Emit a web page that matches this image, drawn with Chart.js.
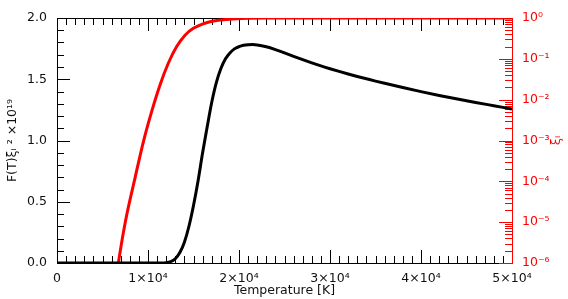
<!DOCTYPE html>
<html>
<head>
<meta charset="utf-8">
<script src="https://cdn.jsdelivr.net/npm/chart.js@4/dist/chart.umd.min.js"></script>
<style>
html,body{margin:0;padding:0;background:#fff;}
#c{display:block;}
</style>
</head>
<body>
<canvas id="c" width="568" height="299"></canvas>
<script>
// ---- data ----
const blackT = [0, 11500, 12000, 12500, 13000, 13500, 14000, 14500, 15000, 15500, 16000, 16500, 17000, 17500, 18000, 18500, 19000, 19500, 20000, 20500, 21000, 21500, 22000, 23000, 24000, 25000, 26000, 27000, 28000, 29000, 30000, 31000, 32000, 33000, 34000, 35000, 36000, 38000, 40000, 42000, 44000, 46000, 48000, 50000];
const blackF = [0, 0, 0.003, 0.012, 0.035, 0.085, 0.17, 0.30, 0.47, 0.67, 0.90, 1.11, 1.31, 1.47, 1.585, 1.665, 1.715, 1.748, 1.766, 1.777, 1.782, 1.783, 1.78, 1.765, 1.742, 1.715, 1.687, 1.66, 1.634, 1.609, 1.586, 1.564, 1.543, 1.523, 1.504, 1.485, 1.467, 1.432, 1.399, 1.368, 1.339, 1.311, 1.284, 1.257];

const redT = [6740, 7180, 7660, 8570, 9490, 10400, 11320, 12230, 13150, 14070, 14980, 15900, 16810, 17700, 18680, 19780, 21000, 23000, 26000, 30000, 40000, 50000];
const redXi = [1e-6, 4e-6, 1.5e-5, 1.2e-4, 9.3e-4, 5.1e-3, 2.3e-2, 7.8e-2, 0.20, 0.38, 0.56, 0.70, 0.81, 0.88, 0.925, 0.962, 0.983, 0.995, 0.999, 1.0, 1.0, 1.0];

const xTickValues = [0, 10000, 20000, 30000, 40000, 50000];
const xTickLabels = ['0', '1×10⁴', '2×10⁴', '3×10⁴', '4×10⁴', '5×10⁴'];
const yTickValues = [0, 0.5, 1.0, 1.5, 2.0];
const y2TickValues = [1e-6, 1e-5, 1e-4, 1e-3, 1e-2, 1e-1, 1];
const y2TickLabels = ['10⁻⁶', '10⁻⁵', '10⁻⁴', '10⁻³', '10⁻²', '10⁻¹', '10⁰'];

const xTitle = 'Temperature [K]';
const yTitle = 'F(T)ξᵢ ² ×10¹⁹';
const y2Title = 'ξᵢ';

const FONT = 'DejaVu Sans';
const RED = '#ff0000';

const innerTicks = {
  id: 'innerTicks',
  beforeDatasetsDraw(chart) {
    const {ctx, chartArea: a, scales: {x, y, y2}} = chart;
    const seg = (x1, y1, x2, y2_) => { ctx.beginPath(); ctx.moveTo(x1, y1); ctx.lineTo(x2, y2_); ctx.stroke(); };
    ctx.save();
    ctx.lineWidth = 1;
    ctx.strokeStyle = '#000';
    seg(a.left, a.top + 0.5, a.right, a.top + 0.5);
    for (let v = x.min + 1000; v < x.max; v += 1000) {
      const px = Math.round(x.getPixelForValue(v)) + 0.5;
      const len = (v % 10000 === 0) ? 13 : 7;
      seg(px, a.bottom, px, a.bottom - len);
      seg(px, a.top, px, a.top + len);
    }
    for (let i = 1; i < 20; i++) {
      const v = i / 10;
      const py = Math.round(y.getPixelForValue(v)) + 0.5;
      const len = (i % 5 === 0) ? 13 : 7;
      seg(a.left, py, a.left + len, py);
    }
    ctx.strokeStyle = RED;
    for (let e = -6; e <= 0; e++) {
      for (let m = 1; m <= 9; m++) {
        const v = m * Math.pow(10, e);
        if (v > 1.0000001) break;
        const py = Math.round(y2.getPixelForValue(v)) + 0.5;
        const len = (m === 1) ? 13 : 7;
        seg(a.right, py, a.right - len, py);
      }
    }
    ctx.restore();
  },
  afterDraw(chart) {
    const {ctx, chartArea: a} = chart;
    ctx.save();
    ctx.fillStyle = RED;
    ctx.font = '13px "' + FONT + '"';
    ctx.textAlign = 'center';
    ctx.textBaseline = 'middle';
    ctx.translate(557, (a.top + a.bottom) / 2);
    ctx.rotate(-Math.PI / 2);
    ctx.fillText(y2Title, 0, 0);
    ctx.restore();
  }
};

new Chart(document.getElementById('c'), {
  type: 'line',
  data: {
    datasets: [
      {
        label: 'F',
        data: blackT.map((t, i) => ({x: t, y: blackF[i]})),
        borderColor: '#000',
        borderWidth: 3,
        pointRadius: 0,
        cubicInterpolationMode: 'monotone',
        yAxisID: 'y'
      },
      {
        label: 'xi',
        data: redT.map((t, i) => ({x: t, y: redXi[i]})),
        borderColor: RED,
        borderWidth: 3,
        pointRadius: 0,
        cubicInterpolationMode: 'monotone',
        yAxisID: 'y2'
      }
    ]
  },
  options: {
    responsive: false,
    animation: false,
    devicePixelRatio: 1,
    layout: {padding: {top: 18, left: 0, right: 0, bottom: 0}},
    plugins: {legend: {display: false}, tooltip: {enabled: false}},
    scales: {
      x: {
        type: 'linear', position: 'bottom', min: 0, max: 50000,
        afterFit(s) { s.height = 36; },
        afterBuildTicks(s) { s.ticks = xTickValues.map(v => ({value: v})); },
        grid: {display: false, drawTicks: false},
        border: {display: true, color: '#000', width: 1},
        ticks: {
          autoSkip: false, maxRotation: 0, padding: 8,
          color: '#111', font: {family: FONT, size: 12.5},
          callback: (v) => { const i = xTickValues.indexOf(v); return i >= 0 ? xTickLabels[i] : ''; }
        },
        title: {display: true, text: xTitle, color: '#111', font: {family: FONT, size: 12.5}, padding: {top: 0, bottom: 1}}
      },
      y: {
        type: 'linear', position: 'left', min: 0, max: 2,
        afterFit(s) { s.width = 57; },
        afterBuildTicks(s) { s.ticks = yTickValues.map(v => ({value: v})); },
        grid: {display: false, drawTicks: false},
        border: {display: true, color: '#000', width: 1},
        ticks: {
          padding: 10, color: '#111', font: {family: FONT, size: 12.5},
          callback: (v) => Number(v).toFixed(1)
        },
        title: {display: true, text: yTitle, color: '#111', font: {family: FONT, size: 12.5}, padding: {top: 5, bottom: 0}}
      },
      y2: {
        type: 'logarithmic', position: 'right', min: 1e-6, max: 1,
        afterFit(s) { s.width = 56; },
        afterBuildTicks(s) { s.ticks = y2TickValues.map(v => ({value: v})); },
        grid: {display: false, drawTicks: false},
        border: {display: true, color: RED, width: 1},
        ticks: {
          padding: 10, color: RED, font: {family: FONT, size: 12.5},
          callback: (v) => { const i = y2TickValues.findIndex(t => Math.abs(t - v) / t < 1e-6); return i >= 0 ? y2TickLabels[i] : ''; }
        }
      }
    }
  },
  plugins: [innerTicks]
});
</script>
</body>
</html>
